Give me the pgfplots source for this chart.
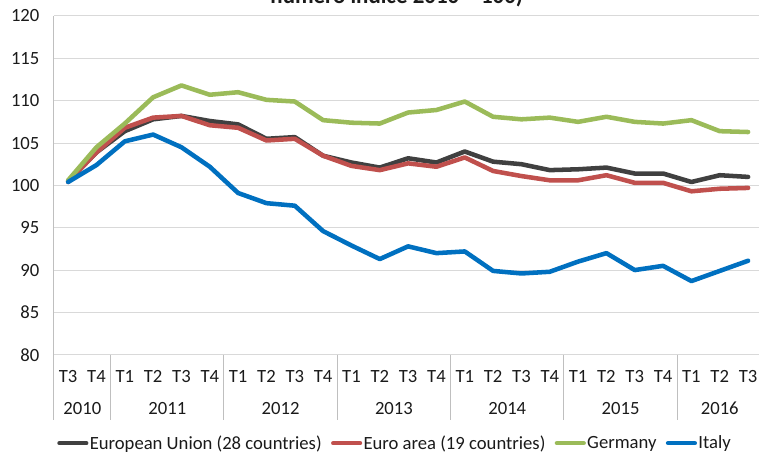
\documentclass[border=0pt]{standalone}
\usepackage{pgfplots}
\pgfplotsset{compat=1.18}
\usepackage{fontspec}
\setmainfont{Carlito}
\definecolor{cEU}{HTML}{404040}
\definecolor{cEA}{HTML}{C0504D}
\definecolor{cDE}{HTML}{9BBB59}
\definecolor{cIT}{HTML}{0070C0}
\definecolor{cGrid}{HTML}{D9D9D9}
\definecolor{cAxis}{HTML}{BFBFBF}
\definecolor{cTxt}{HTML}{1A1A1A}
\begin{document}
\begin{tikzpicture}
\begin{axis}[
  at={(0pt,0pt)}, anchor=south west,
  scale only axis, width=529.125pt, height=254.25pt,
  xmin=-0.5, xmax=24.385, ymin=80, ymax=120,
  enlargelimits=false, clip=false,
  axis x line*=bottom, axis y line*=left,
  x axis line style={draw=cGrid, line width=0.75pt},
  y axis line style={draw=cAxis, line width=0.75pt},
  ymajorgrids, grid style={draw=cGrid, line width=0.75pt},
  major tick length=0pt,
  ytick={80,85,...,120},
  xtick={0,...,24},
  xticklabels={T3,T4,T1,T2,T3,T4,T1,T2,T3,T4,T1,T2,T3,T4,T1,T2,T3,T4,T1,T2,T3,T4,T1,T2,T3},
  /pgf/number format/assume math mode=true,
  tick label style={font=\fontsize{14}{17}\selectfont, text=cTxt},
  yticklabel style={xshift=-7.4pt},
  xticklabel style={anchor=center, yshift=-16.5pt},
  every axis plot/.append style={line width=3.4pt, line join=round, line cap=round},
  legend columns=4,
  legend image code/.code={\draw[#1, line cap=round] (0pt,0pt) -- (20pt,0pt);},
  legend style={at={(axis description cs:0.0047,-0.261)}, anchor=west,
    draw=none, fill=none, inner sep=0pt, outer sep=0pt,
    font=\fontsize{14}{17}\selectfont, text=cTxt,
    nodes={inner sep=1pt},
    column sep=0pt,
    /tikz/every even column/.append style={column sep=6pt}},
]
\addplot[cEU] coordinates {
(0,100.5) (1,103.9) (2,106.4) (3,107.8) (4,108.2) (5,107.6) (6,107.2) (7,105.5)
(8,105.7) (9,103.5) (10,102.7) (11,102.1) (12,103.2) (13,102.7) (14,104.0) (15,102.8)
(16,102.5) (17,101.8) (18,101.9) (19,102.1) (20,101.4) (21,101.4) (22,100.4) (23,101.2) (24,101.0)};
\addlegendentry{European Union (28 countries)}
\addplot[cEA] coordinates {
(0,100.4) (1,103.9) (2,106.8) (3,108.0) (4,108.2) (5,107.1) (6,106.8) (7,105.3)
(8,105.5) (9,103.5) (10,102.3) (11,101.8) (12,102.6) (13,102.2) (14,103.3) (15,101.7)
(16,101.1) (17,100.6) (18,100.6) (19,101.2) (20,100.3) (21,100.3) (22,99.3) (23,99.6) (24,99.7)};
\addlegendentry{Euro area (19 countries)}
\addplot[cDE] coordinates {
(0,100.6) (1,104.5) (2,107.3) (3,110.4) (4,111.8) (5,110.7) (6,111.0) (7,110.1)
(8,109.9) (9,107.7) (10,107.4) (11,107.3) (12,108.6) (13,108.9) (14,109.9) (15,108.1)
(16,107.8) (17,108.0) (18,107.5) (19,108.1) (20,107.5) (21,107.3) (22,107.7) (23,106.4) (24,106.3)};
\addlegendentry{Germany}
\addplot[cIT] coordinates {
(0,100.4) (1,102.4) (2,105.2) (3,106.0) (4,104.5) (5,102.2) (6,99.1) (7,97.9)
(8,97.6) (9,94.6) (10,92.9) (11,91.3) (12,92.8) (13,92.0) (14,92.2) (15,89.9)
(16,89.6) (17,89.8) (18,91.0) (19,92.0) (20,90.0) (21,90.5) (22,88.7) (23,89.9) (24,91.1)};
\addlegendentry{Italy}
% year separators
\pgfplotsinvokeforeach{-0.5,1.5,5.5,9.5,13.5,17.5,21.5}{
  \draw[cAxis, line width=0.75pt] (axis cs:#1,80) -- ++(0pt,-48.75pt);
}
% year labels
\tikzset{yearlab/.style={anchor=center, font=\fontsize{14}{17}\selectfont, text=cTxt, yshift=-40.5pt}}
\node[yearlab] at (axis cs:0.5,80) {2010};
\node[yearlab] at (axis cs:3.5,80) {2011};
\node[yearlab] at (axis cs:7.5,80) {2012};
\node[yearlab] at (axis cs:11.5,80) {2013};
\node[yearlab] at (axis cs:15.5,80) {2014};
\node[yearlab] at (axis cs:19.5,80) {2015};
\node[yearlab] at (axis cs:23,80) {2016};
\end{axis}
\node[anchor=base, font=\fontsize{17.2}{20}\selectfont\bfseries, text=cTxt] at (257.25pt,263.25pt) {numero indice 2010 = 100)};
\pgfresetboundingbox
\useasboundingbox (-40.5pt,-73.5pt) rectangle (529.125pt,266.25pt);
\end{tikzpicture}
\end{document}
